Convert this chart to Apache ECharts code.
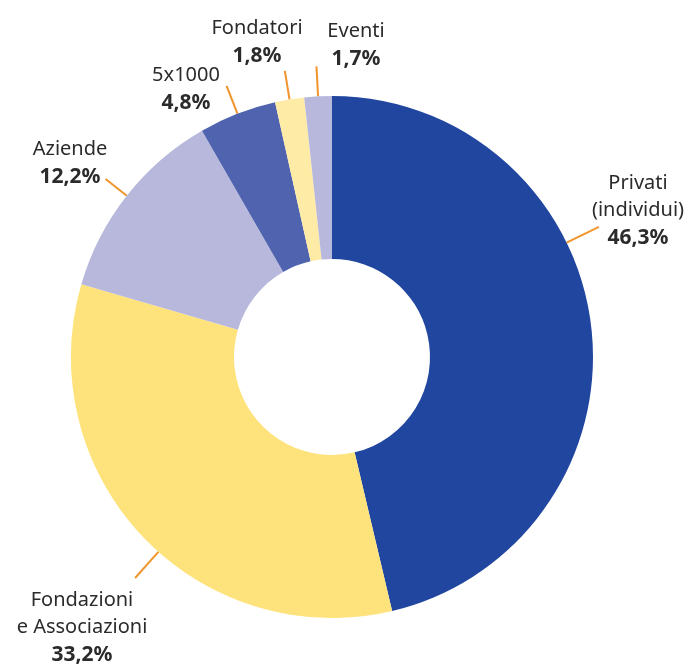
<!DOCTYPE html>
<html>
<head>
<meta charset="utf-8">
<script src="https://cdn.jsdelivr.net/npm/echarts@6/dist/echarts.min.js"></script>
<style>
html,body{margin:0;padding:0;background:#fff;}
#chart{width:691px;height:664px;}
</style>
</head>
<body>
<div id="chart"></div>
<script>
// dati
var categorie = ['Privati\n(individui)', 'Fondazioni\ne Associazioni', 'Aziende', '5x1000', 'Fondatori', 'Eventi'];
var percentuali = [46.3, 33.2, 12.2, 4.8, 1.8, 1.7];
var etichette = ['46,3%', '33,2%', '12,2%', '4,8%', '1,8%', '1,7%'];
var colori = ['#2146a0', '#fee27b', '#b8b8dc', '#5063ae', '#feeba5', '#b8b8dc'];

// layout
var CX = 332, CY = 357, R_IN = 98, R_OUT = 261;
// angolo della linea guida (gradi dall'alto, senso orario); null = metà fetta
var angoliLinea = [64, 221.7, null, null, null, null];
var lunghLinea = [36, 35, 27, 30, 29, 30];
// centro del blocco di testo
var posEtichette = [[638, 211], [82, 628], [70, 164], [186, 90], [257, 43], [356, 46]];

var dati = [];
for (var i = 0; i < categorie.length; i++) {
	dati.push({
		name: categorie[i],
		value: percentuali[i],
		itemStyle: { color: colori[i] }
	});
}

var chart = echarts.init(document.getElementById('chart'));
var option = {
	animation: false,
	series: [{
		type: 'pie',
		center: [CX, CY],
		radius: [R_IN, R_OUT],
		startAngle: 90,
		clockwise: true,
		avoidLabelOverlap: false,
		itemStyle: { borderWidth: 0 },
		label: {
			show: true,
			position: 'outside',
			formatter: function (p) {
				return '{n|' + p.name.split('\n').join('}\n{n|') + '}\n{p|' + etichette[p.dataIndex] + '}';
			},
			rich: {
				n: { fontFamily: 'Noto Sans', fontSize: 20, color: '#2b2b2b', lineHeight: 27, align: 'center' },
				p: { fontFamily: 'Noto Sans', fontSize: 21, fontWeight: 'bold', color: '#2b2b2b', lineHeight: 29, align: 'center' }
			}
		},
		labelLine: {
			show: true,
			length: 30,
			length2: 0,
			lineStyle: { color: '#f0952c', width: 2 }
		},
		labelLayout: function (params) {
			var i = params.dataIndex;
			var a = angoliLinea[i];
			var pts;
			if (a === null) {
				var p0 = params.labelLinePoints[0];
				var dx = p0[0] - CX, dy = p0[1] - CY;
				var d = Math.sqrt(dx * dx + dy * dy);
				pts = [[p0[0], p0[1]], [p0[0] + dx / d * lunghLinea[i], p0[1] + dy / d * lunghLinea[i]]];
			} else {
				var rad = a * Math.PI / 180;
				var sx = Math.sin(rad), sy = -Math.cos(rad);
				pts = [[CX + sx * R_OUT, CY + sy * R_OUT], [CX + sx * (R_OUT + lunghLinea[i]), CY + sy * (R_OUT + lunghLinea[i])]];
			}
			return {
				x: posEtichette[i][0],
				y: posEtichette[i][1],
				align: 'center',
				verticalAlign: 'middle',
				labelLinePoints: pts
			};
		},
		data: dati
	}]
};
chart.setOption(option);
</script>
</body>
</html>
